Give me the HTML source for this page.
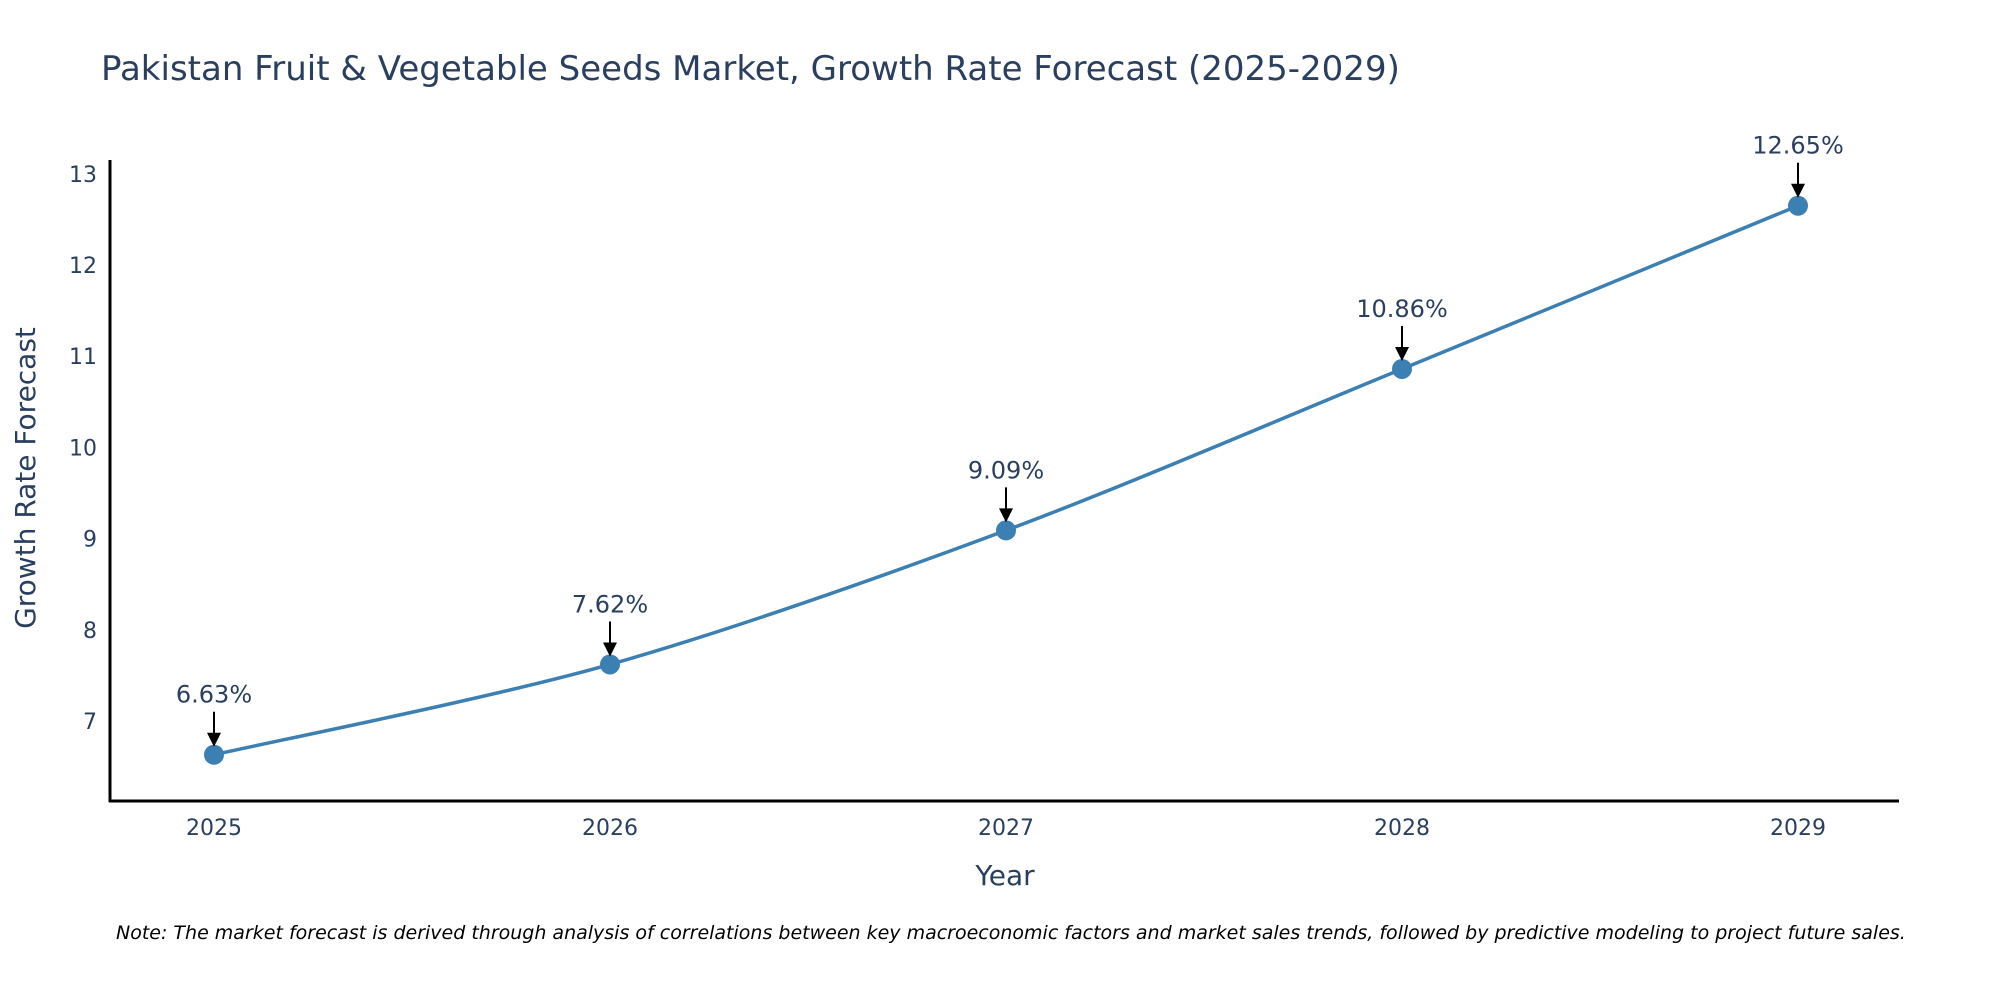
<!DOCTYPE html>
<html><head><meta charset="utf-8"><style>
html,body{margin:0;padding:0;background:#fff;overflow:hidden;}
svg{display:block;font-family:"DejaVu Sans","Liberation Sans",sans-serif;}
</style></head><body>
<svg id="chart" width="2000" height="1000" viewBox="0 0 2000 1000">
<text x="101" y="80" font-size="34" fill="#2a3f5f">Pakistan Fruit &amp; Vegetable Seeds Market, Growth Rate Forecast (2025-2029)</text>
<g id="yticks"></g>
<g id="xticks"></g>
<line x1="110" y1="160" x2="110" y2="802" stroke="#000" stroke-width="3"/>
<line x1="109" y1="801" x2="1899" y2="801" stroke="#000" stroke-width="3"/>
<path id="line" fill="none" stroke="#3b7fb3" stroke-width="3.5"/>
<g id="points"></g>
<g id="annots"></g>
<text x="1005" y="885" font-size="28" fill="#2a3f5f" text-anchor="middle">Year</text>
<text transform="translate(35,478) rotate(-90)" font-size="28" fill="#2a3f5f" text-anchor="middle">Growth Rate Forecast</text>
<text x="116" y="939" font-size="19" font-style="italic" fill="#000">Note: The market forecast is derived through analysis of correlations between key macroeconomic factors and market sales trends, followed by predictive modeling to project future sales.</text>
</svg>
<script>
const years = [2025, 2026, 2027, 2028, 2029];
const growth = [6.63, 7.62, 9.09, 10.86, 12.65];
const yTickValues = [7, 8, 9, 10, 11, 12, 13];
const NS = "http://www.w3.org/2000/svg";
function xs(v){ return 214 + (v - 2025) * 396; }
function ys(v){ return 721 - (v - 7) * 91.2; }
function mk(tag, attrs, parent){ const e = document.createElementNS(NS, tag); for (const k in attrs) e.setAttribute(k, attrs[k]); parent.appendChild(e); return e; }
const yt = document.getElementById('yticks');
yTickValues.forEach(v => {
  const t = mk('text', {x: 97, y: ys(v) + 8, 'font-size': 22, fill: '#2a3f5f', 'text-anchor': 'end'}, yt);
  
  
  t.textContent = v;
});
const xt = document.getElementById('xticks');
years.forEach(v => {
  const t = mk('text', {x: xs(v), y: 835, 'font-size': 22, fill: '#2a3f5f', 'text-anchor': 'middle'}, xt);
  
  
  t.textContent = v;
});
const P = years.map((y, i) => [xs(y), ys(growth[i])]);
let d = 'M' + P[0][0] + ',' + P[0][1];
const s = 0.15;
for (let i = 0; i < P.length - 1; i++) {
  const p0 = P[Math.max(i - 1, 0)], p1 = P[i], p2 = P[i + 1], p3 = P[Math.min(i + 2, P.length - 1)];
  const c1 = [p1[0] + (p2[0] - p0[0]) * s, p1[1] + (p2[1] - p0[1]) * s];
  const c2 = [p2[0] - (p3[0] - p1[0]) * s, p2[1] - (p3[1] - p1[1]) * s];
  d += ' C' + c1[0] + ',' + c1[1] + ' ' + c2[0] + ',' + c2[1] + ' ' + p2[0] + ',' + p2[1];
}
document.getElementById('line').setAttribute('d', d);
const pts = document.getElementById('points');
const an = document.getElementById('annots');
years.forEach((y, i) => {
  const cx = xs(y), cy = ys(growth[i]);
  const c = mk('circle', {cx: cx, cy: cy, r: 10, fill: '#3b7fb3'}, pts);
  
  
  const l = mk('line', {x1: cx, y1: cy - 43, x2: cx, y2: cy - 20, stroke: '#000', 'stroke-width': 2}, an);
  
  
  const h = mk('polygon', {points: (cx - 7) + ',' + (cy - 22) + ' ' + (cx + 7) + ',' + (cy - 22) + ' ' + cx + ',' + (cy - 8), fill: '#000'}, an);
  
  
  const t = mk('text', {x: cx, y: cy - 52, 'font-size': 24, fill: '#2a3f5f', 'text-anchor': 'middle'}, an);
  
  
  t.textContent = growth[i].toFixed(2) + '%';
});
</script>
</body></html>
